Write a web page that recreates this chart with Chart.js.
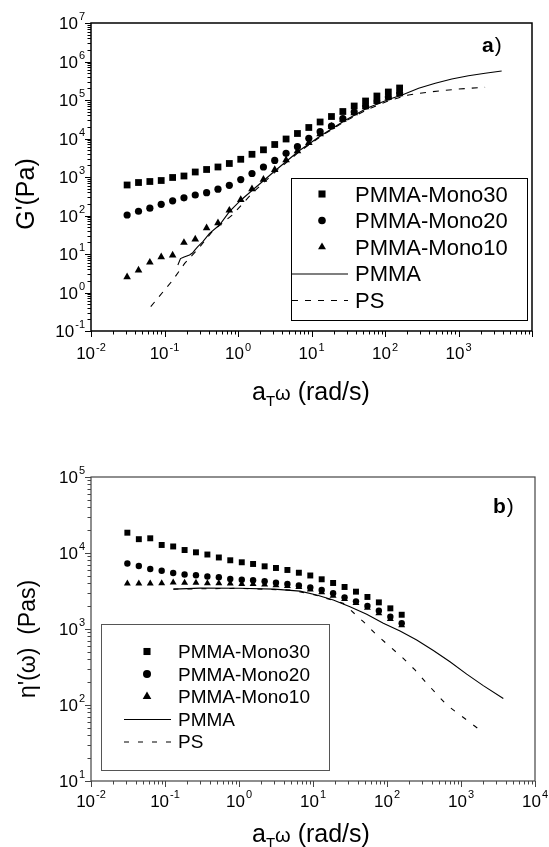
<!DOCTYPE html>
<html>
<head>
<meta charset="utf-8">
<script src="https://cdn.jsdelivr.net/npm/chart.js@4.4.0/dist/chart.umd.min.js"></script>
<style>
  html, body { margin: 0; padding: 0; background: #fff; }
  canvas { position: absolute; left: 0; }
  #gChart { top: 0; }
  #etaChart { top: 423px; }
</style>
</head>
<body>
<canvas id="gChart" width="549" height="423"></canvas>
<canvas id="etaChart" width="549" height="424"></canvas>
<script>
/* ---------- data ---------- */
const freq = [0.031, 0.0443, 0.0632, 0.0902, 0.129, 0.184, 0.262, 0.374, 0.534, 0.762,
              1.09, 1.55, 2.22, 3.16, 4.51, 6.44, 9.19, 13.1, 18.7, 26.7, 38.1, 54.4, 77.6, 111, 158];

// a) storage modulus G' (Pa)
const gMono30 = [620, 719, 764, 811, 971, 1062, 1349, 1567, 1820, 2244, 2885, 3890, 5086, 6982,
                 9703, 13490, 19320, 26850, 37260, 50250, 69820, 94170, 127000, 161400, 205000];
const gMono20 = [103, 129, 155, 195, 241, 288, 341, 391, 482, 608, 855, 1233, 1820, 2700,
                 4130, 6125, 10120, 15020, 21130, 32670, 48750, 69820, 94170, 119700, 152000];
const gMono10 = [2.53, 3.8, 6.08, 8.35, 9.31, 19.7, 24.2, 47.3, 63.8, 136, 257, 488, 861, 1549,
                 2767, 4736, 7780, 13090, 20500, 31190, 45970, 65770, 91380, 116100, 143200];
const pmmaGFreq = [0.152, 0.165, 0.185, 0.219, 0.24, 0.26, 0.284, 0.333, 0.41, 0.56, 0.764, 1.1, 1.58,
                   2.28, 3.28, 6.79, 13.5, 27.7, 56.6, 116, 171, 287, 483, 811, 1367, 2301, 3866];
const pmmaG = [5.2, 7.6, 8.4, 9.4, 10.6, 12.8, 15.5, 20.9, 34.5, 56.6, 126, 253, 459,
               835, 1520, 4800, 12000, 28500, 61000, 106000, 135000, 201000, 271700, 351000, 427300, 494000, 566000];
const psGFreq = [0.065, 0.13, 0.188, 0.3, 0.454, 0.847, 1.58, 3.28, 6.79, 13.5, 27.7, 56.6, 116, 210, 392, 1000, 2300];
const psG = [0.43, 2.11, 5.7, 15, 40, 105, 390, 1400, 4500, 11500, 27000, 56000, 98000, 135000, 161000, 193000, 214000];

// b) dynamic viscosity eta' (Pa s)
const etaMono30 = [18500, 15200, 15610, 12750, 12190, 10950, 10210, 9550, 8730, 8020, 7550, 7170, 6680,
                   6350, 5980, 5500, 5060, 4510, 4030, 3570, 3100, 2640, 2240, 1870, 1540];
const etaMono20 = [7280, 6740, 6160, 5850, 5460, 5210, 5090, 4910, 4790, 4550, 4450, 4370, 4240,
                   4070, 3910, 3730, 3520, 3260, 2950, 2610, 2310, 2010, 1740, 1450, 1190];
const etaMono10 = [3970, 3970, 3970, 3990, 4090, 4070, 4070, 3990, 3990, 3970, 3910, 3910, 3850,
                   3760, 3680, 3570, 3310, 3040, 2740, 2480, 2200, 1900, 1610, 1350, 1120];
const pmmaEtaFreq = [0.13, 0.3, 1, 3, 6.67, 11.2, 18.8, 31.6, 53.2, 89.2, 150, 252, 423, 710, 1194, 2000, 3730];
const pmmaEta = [3350, 3450, 3430, 3350, 3150, 2800, 2410, 1960, 1560, 1190, 940, 716, 520, 370, 255, 180, 122];
const psEtaFreq = [0.13, 1, 5, 10, 25.6, 47.9, 72.6, 110, 166, 239, 344, 641, 1194, 1807];
const psEta = [3350, 3430, 3250, 2850, 2180, 1250, 834, 585, 411, 289, 193, 100, 63.5, 46.9];

const seriesNames = ["PMMA-Mono30", "PMMA-Mono20", "PMMA-Mono10", "PMMA", "PS"];

// tick decades (exponents of ten)
const freqDecades = [-2, 4];
const gDecades = [-1, 7];
const etaDecades = [1, 5];
const freqLabelsA = [-2, -1, 0, 1, 2, 3];
const freqLabelsB = [-2, -1, 0, 1, 2, 3, 4];

/* ---------- helpers ---------- */
const FONT = '"Liberation Sans", Arial, sans-serif';

function pts(xs, ys) {
    return xs.map((x, i) => ({ x: x, y: ys[i] }));
}

function markerSet(label, xs, ys, style, r) {
    return {
        label: label, data: pts(xs, ys), showLine: false,
        pointStyle: style, pointRadius: r,
        pointBackgroundColor: "#000", pointBorderColor: "#000", pointBorderWidth: 0
    };
}

function lineSet(label, xs, ys, dash) {
    return {
        label: label, data: pts(xs, ys), showLine: true, pointRadius: 0,
        borderColor: "#000", borderWidth: 1.1, borderDash: dash, tension: 0, fill: false
    };
}

function drawPow(ctx, exp, x, y, supY, align, base, sup) {
    ctx.font = base + "px " + FONT;
    const w1 = ctx.measureText("10").width;
    ctx.font = sup + "px " + FONT;
    const w2 = ctx.measureText(String(exp)).width;
    const left = align === "right" ? x - w1 - w2 - 1 : x - (w1 + w2 + 1) / 2;
    ctx.textAlign = "left";
    ctx.textBaseline = "alphabetic";
    ctx.font = base + "px " + FONT;
    ctx.fillText("10", left, y);
    ctx.font = sup + "px " + FONT;
    ctx.fillText(String(exp), left + w1 + 1, supY);
}

function decor(cfg) {
    return {
        id: "decor",
        afterDatasetsDraw(chart) {
            const ctx = chart.ctx, a = chart.chartArea;
            const xs = chart.scales.x, ys = chart.scales.y;
            ctx.save();

            // frame
            ctx.strokeStyle = cfg.axisColor;
            ctx.lineWidth = cfg.frameWidth;
            ctx.strokeRect(a.left, a.top, a.right - a.left, a.bottom - a.top);

            // tick marks (outside, log minor ticks)
            ctx.lineWidth = 1;
            ctx.beginPath();
            for (let e = cfg.xDec[0]; e <= cfg.xDec[1]; e++) {
                for (let m = 1; m <= 9; m++) {
                    if (e === cfg.xDec[1] && m > 1) break;
                    const px = Math.round(xs.getPixelForValue(m * Math.pow(10, e))) + 0.5;
                    ctx.moveTo(px, a.bottom);
                    ctx.lineTo(px, a.bottom + (m === 1 ? 6 : 3.5));
                }
            }
            for (let e = cfg.yDec[0]; e <= cfg.yDec[1]; e++) {
                for (let m = 1; m <= 9; m++) {
                    if (e === cfg.yDec[1] && m > 1) break;
                    const py = Math.round(ys.getPixelForValue(m * Math.pow(10, e))) + 0.5;
                    ctx.moveTo(a.left, py);
                    ctx.lineTo(a.left - (m === 1 ? 6 : 3.5), py);
                }
            }
            ctx.stroke();

            // tick labels
            ctx.fillStyle = "#000";
            cfg.xLabels.forEach(e => {
                const px = xs.getPixelForValue(Math.pow(10, e));
                drawPow(ctx, e, px, a.bottom + cfg.xLabY, a.bottom + cfg.xSupY, "center", 17, 11);
            });
            for (let e = cfg.yDec[0]; e <= cfg.yDec[1]; e++) {
                const py = ys.getPixelForValue(Math.pow(10, e));
                drawPow(ctx, e, a.left - 6, py + 6, py - 3, "right", 17, 11);
            }

            // axis titles
            let x = 252;
            const b = cfg.xTitleY;
            ctx.textAlign = "left";
            ctx.font = "25px " + FONT;
            ctx.fillText("a", x, b);
            x += ctx.measureText("a").width;
            ctx.font = "15px " + FONT;
            ctx.fillText("T", x, b + 6);
            x += ctx.measureText("T").width;
            ctx.font = "20px " + FONT;
            ctx.fillText("\u03c9", x, b);
            x += ctx.measureText("\u03c9").width;
            ctx.font = "25px " + FONT;
            ctx.fillText(" (rad/s)", x, b);

            ctx.save();
            ctx.translate(cfg.yTitle.x, cfg.yTitle.y);
            ctx.rotate(-Math.PI / 2);
            ctx.textAlign = "center";
            ctx.font = cfg.yTitle.size + "px " + FONT;
            ctx.fillText(cfg.yTitle.text, 0, 0);
            ctx.restore();

            // panel label
            ctx.textAlign = "left";
            ctx.font = "bold 21px " + FONT;
            ctx.fillText(cfg.panel.text, cfg.panel.x, cfg.panel.y);
            const pw = ctx.measureText(cfg.panel.text).width;
            ctx.font = "21px " + FONT;
            ctx.fillText(")", cfg.panel.x + pw + 1, cfg.panel.y);

            // legend
            const L = cfg.legend;
            ctx.strokeStyle = L.boxColor;
            ctx.lineWidth = 1;
            ctx.strokeRect(L.x + 0.5, L.y + 0.5, L.w, L.h);
            chart.data.datasets.forEach((ds, i) => {
                const ry = L.row0 + L.gap * i;
                ctx.fillStyle = "#000";
                ctx.strokeStyle = "#000";
                if (ds.showLine) {
                    ctx.lineWidth = 1.1;
                    ctx.setLineDash(ds.borderDash || []);
                    ctx.beginPath();
                    ctx.moveTo(L.line0, ry + 0.5);
                    ctx.lineTo(L.line1, ry + 0.5);
                    ctx.stroke();
                    ctx.setLineDash([]);
                } else {
                    Chart.helpers.drawPoint(ctx, {
                        pointStyle: ds.pointStyle, rotation: 0,
                        radius: L.radius[ds.pointStyle], borderWidth: 0
                    }, L.markX, ry);
                }
                ctx.font = L.size + "px " + FONT;
                ctx.textBaseline = "alphabetic";
                ctx.fillText(ds.label, L.textX, ry + L.size * 0.36);
            });

            ctx.restore();
        }
    };
}

function makeChart(id, sets, xr, yr, pad, cfg) {
    return new Chart(document.getElementById(id), {
        type: "scatter",
        data: { datasets: sets },
        options: {
            responsive: false,
            animation: false,
            devicePixelRatio: 1,
            events: [],
            layout: { padding: pad },
            plugins: { legend: { display: false }, tooltip: { enabled: false } },
            scales: {
                x: { type: "logarithmic", min: xr[0], max: xr[1], display: false },
                y: { type: "logarithmic", min: yr[0], max: yr[1], display: false }
            }
        },
        plugins: [decor(cfg)]
    });
}

/* ---------- a) G' ---------- */
makeChart("gChart", [
    markerSet(seriesNames[0], freq, gMono30, "rect", 4.8),
    markerSet(seriesNames[1], freq, gMono20, "circle", 3.6),
    markerSet(seriesNames[2], freq, gMono10, "triangle", 4.4),
    lineSet(seriesNames[3], pmmaGFreq, pmmaG, []),
    lineSet(seriesNames[4], psGFreq, psG, [6, 7])
], [1e-2, 1e4], [1e-1, 1e7], { left: 91, right: 17, top: 23, bottom: 92 }, {
    axisColor: "#000", frameWidth: 1.5,
    xDec: freqDecades, yDec: gDecades, xLabels: freqLabelsA,
    xLabY: 28, xSupY: 20, xTitleY: 400,
    yTitle: { text: "G'(Pa)", x: 34, y: 194, size: 25 },
    panel: { text: "a", x: 482, y: 52 },
    legend: {
        x: 291, y: 178, w: 236, h: 142, boxColor: "#000",
        row0: 194, gap: 26.5, markX: 322, line0: 292, line1: 348, textX: 355, size: 22,
        radius: { rect: 5, circle: 3.8, triangle: 4.6 }
    }
});

/* ---------- b) eta' ---------- */
makeChart("etaChart", [
    markerSet(seriesNames[0], freq, etaMono30, "rect", 4.2),
    markerSet(seriesNames[1], freq, etaMono20, "circle", 3.2),
    markerSet(seriesNames[2], freq, etaMono10, "triangle", 4),
    lineSet(seriesNames[3], pmmaEtaFreq, pmmaEta, []),
    lineSet(seriesNames[4], psEtaFreq, psEta, [5, 9])
], [1e-2, 1e4], [1e1, 1e5], { left: 91, right: 14, top: 54, bottom: 66 }, {
    axisColor: "#444", frameWidth: 1.2,
    xDec: freqDecades, yDec: etaDecades, xLabels: freqLabelsB,
    xLabY: 26, xSupY: 17, xTitleY: 419,
    yTitle: { text: "\u03b7'(\u03c9)  (Pas)", x: 35, y: 216, size: 23 },
    panel: { text: "b", x: 493, y: 90 },
    legend: {
        x: 101, y: 201, w: 228, h: 146, boxColor: "#555",
        row0: 228.5, gap: 22.5, markX: 147, line0: 124, line1: 171, textX: 178, size: 19,
        radius: { rect: 5, circle: 4, triangle: 5 }
    }
});
</script>
</body>
</html>
